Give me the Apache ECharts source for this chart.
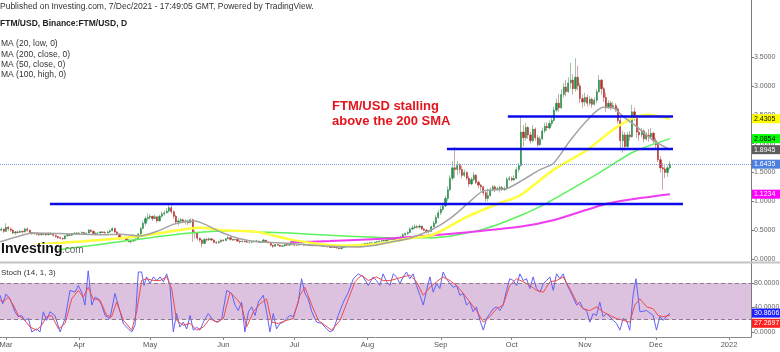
<!DOCTYPE html>
<html>
<head>
<meta charset="utf-8">
<script src="https://cdn.jsdelivr.net/npm/echarts@6/dist/echarts.min.js"></script>
<style>html,body{margin:0;padding:0;background:#fff}#chart{width:780px;height:352px}</style>
</head>
<body>
<div id="chart"></div>
<script>
// x values are days counted from 1 Mar 2021 (day 0)
var firstDay = -3;          // 26 Feb 2021
var firstOpen = 0.52;
// daily candles per month: [close, low, high]; open = previous close
var feb = [[0.50,0.47,0.55],[0.52,0.49,0.55],[0.48,0.45,0.53]];
var mar = [[0.55,0.47,0.62],[0.52,0.49,0.57],[0.50,0.47,0.55],[0.45,0.43,0.52],[0.47,0.42,0.49],[0.46,0.44,0.49],[0.48,0.45,0.50],[0.47,0.44,0.49],[0.52,0.46,0.54],[0.50,0.47,0.55],
  [0.46,0.44,0.51],[0.44,0.42,0.47],[0.45,0.42,0.47],[0.43,0.41,0.46],[0.42,0.40,0.45],[0.44,0.41,0.45],[0.43,0.41,0.45],[0.42,0.40,0.44],[0.44,0.41,0.46],[0.43,0.42,0.46],
  [0.41,0.39,0.44],[0.39,0.37,0.42],[0.37,0.35,0.40],[0.36,0.34,0.39],[0.35,0.33,0.37],[0.40,0.34,0.41],[0.42,0.39,0.43],[0.41,0.40,0.44],[0.44,0.40,0.45],[0.45,0.43,0.46],[0.44,0.42,0.47]];
var apr = [[0.45,0.43,0.47],[0.46,0.44,0.48],[0.44,0.43,0.47],[0.45,0.43,0.46],[0.50,0.44,0.52],[0.48,0.46,0.52],[0.44,0.42,0.49],[0.45,0.43,0.46],[0.45,0.44,0.47],[0.47,0.44,0.48],
  [0.46,0.45,0.48],[0.45,0.44,0.48],[0.47,0.45,0.49],[0.49,0.45,0.51],[0.53,0.48,0.55],[0.47,0.45,0.53],[0.43,0.41,0.48],[0.37,0.33,0.44],[0.36,0.34,0.39],[0.37,0.34,0.38],
  [0.33,0.31,0.38],[0.30,0.29,0.34],[0.31,0.27,0.33],[0.33,0.30,0.34],[0.35,0.31,0.36],[0.43,0.34,0.45],[0.53,0.42,0.55],[0.62,0.52,0.66],[0.70,0.58,0.74],[0.72,0.66,0.79]];
var may = [[0.74,0.68,0.78],[0.70,0.66,0.75],[0.73,0.69,0.77],[0.66,0.63,0.74],[0.74,0.65,0.77],[0.78,0.72,0.82],[0.80,0.75,0.84],[0.83,0.78,0.88],[0.89,0.80,0.95],[0.82,0.78,0.93],
  [0.74,0.70,0.84],[0.64,0.62,0.77],[0.66,0.58,0.70],[0.68,0.63,0.71],[0.65,0.63,0.70],[0.66,0.60,0.69],[0.63,0.59,0.68],[0.68,0.62,0.70],[0.45,0.30,0.70],[0.45,0.35,0.50],
  [0.36,0.32,0.47],[0.33,0.29,0.37],[0.27,0.20,0.34],[0.34,0.26,0.36],[0.33,0.30,0.36],[0.35,0.31,0.37],[0.33,0.31,0.36],[0.29,0.27,0.34],[0.28,0.26,0.31],[0.30,0.27,0.32],[0.33,0.29,0.34]];
var jun = [[0.32,0.30,0.34],[0.35,0.31,0.36],[0.37,0.34,0.40],[0.34,0.32,0.38],[0.33,0.31,0.35],[0.34,0.32,0.35],[0.31,0.30,0.35],[0.30,0.27,0.32],[0.31,0.29,0.32],[0.30,0.29,0.32],
  [0.29,0.28,0.31],[0.29,0.27,0.30],[0.30,0.28,0.31],[0.31,0.29,0.32],[0.31,0.30,0.33],[0.29,0.28,0.32],[0.30,0.28,0.31],[0.33,0.29,0.35],[0.30,0.29,0.33],[0.29,0.27,0.30],
  [0.24,0.22,0.29],[0.22,0.19,0.25],[0.25,0.21,0.26],[0.24,0.23,0.26],[0.22,0.21,0.25],[0.23,0.21,0.24],[0.25,0.22,0.26],[0.24,0.23,0.26],[0.25,0.23,0.27],[0.25,0.24,0.27]];
var jul = [[0.24,0.23,0.26],[0.24,0.23,0.25],[0.25,0.24,0.26],[0.26,0.24,0.27],[0.24,0.23,0.26],[0.25,0.24,0.26],[0.24,0.23,0.26],[0.23,0.22,0.25],[0.24,0.22,0.25],[0.23,0.22,0.24],
  [0.24,0.23,0.25],[0.23,0.22,0.24],[0.22,0.21,0.23],[0.22,0.21,0.23],[0.21,0.20,0.23],[0.20,0.19,0.22],[0.21,0.19,0.22],[0.20,0.19,0.21],[0.19,0.18,0.21],[0.18,0.17,0.20],
  [0.20,0.17,0.21],[0.21,0.19,0.22],[0.22,0.20,0.23],[0.22,0.21,0.23],[0.22,0.21,0.23],[0.23,0.21,0.25],[0.24,0.22,0.25],[0.24,0.23,0.26],[0.25,0.23,0.26],[0.26,0.24,0.27],[0.27,0.25,0.28]];
var aug = [[0.27,0.26,0.29],[0.28,0.26,0.29],[0.28,0.27,0.30],[0.29,0.27,0.30],[0.30,0.28,0.31],[0.31,0.29,0.32],[0.32,0.30,0.33],[0.31,0.30,0.33],[0.33,0.30,0.34],[0.34,0.32,0.36],
  [0.35,0.33,0.37],[0.34,0.33,0.36],[0.37,0.34,0.38],[0.36,0.35,0.39],[0.38,0.35,0.40],[0.42,0.37,0.45],[0.44,0.40,0.46],[0.46,0.42,0.48],[0.52,0.45,0.55],[0.54,0.50,0.58],
  [0.56,0.52,0.60],[0.55,0.53,0.59],[0.57,0.53,0.60],[0.52,0.50,0.58],[0.50,0.48,0.54],[0.47,0.45,0.52],[0.48,0.44,0.50],[0.56,0.47,0.58],[0.62,0.55,0.66],[0.72,0.60,0.76],[0.80,0.70,0.85]];
var sep = [[0.86,0.76,0.92],[0.92,0.83,0.98],[1.05,0.90,1.10],[1.20,1.00,1.26],[1.40,1.18,1.45],[1.58,1.36,1.70],[1.55,1.40,1.94],[1.62,1.45,1.70],[1.55,1.48,1.66],[1.45,1.40,1.62],
  [1.50,1.42,1.55],[1.40,1.36,1.52],[1.30,1.25,1.44],[1.38,1.28,1.42],[1.45,1.35,1.50],[1.33,1.30,1.47],[1.28,1.22,1.36],[1.25,1.18,1.30],[1.15,1.10,1.27],[1.05,0.99,1.18],
  [1.10,1.00,1.22],[1.20,1.08,1.24],[1.25,1.17,1.28],[1.20,1.16,1.28],[1.22,1.18,1.25],[1.24,1.15,1.27],[1.20,1.18,1.27],[1.22,1.18,1.26],[1.38,1.20,1.42],[1.40,1.35,1.44]];
var oct = [[1.37,1.34,1.43],[1.40,1.35,1.45],[1.55,1.38,1.60],[1.62,1.50,1.66],[2.20,1.60,2.46],[2.10,1.95,2.32],[2.28,2.05,2.36],[2.15,2.08,2.30],[2.05,2.00,2.20],[2.25,2.02,2.32],
  [2.10,2.05,2.28],[1.98,1.94,2.15],[2.08,1.96,2.12],[2.22,2.06,2.28],[2.30,2.18,2.36],[2.27,2.22,2.37],[2.35,2.24,2.40],[2.40,2.30,2.45],[2.58,2.38,2.64],[2.70,2.55,2.78],
  [2.62,2.55,2.86],[2.85,2.60,2.95],[2.98,2.80,3.05],[2.90,2.82,3.10],[3.05,2.88,3.15],[3.10,2.95,3.40],[2.95,2.85,3.20],[3.15,2.90,3.48],[3.00,2.92,3.35],[2.78,2.70,3.05],[2.72,2.62,2.85]];
var nov = [[2.80,2.65,2.88],[2.70,2.64,2.85],[2.77,2.66,2.82],[2.68,2.62,2.80],[2.75,2.66,2.80],[2.90,2.70,2.95],[3.10,2.88,3.19],[2.95,2.85,3.12],[2.80,2.72,2.98],[2.62,2.55,2.88],
  [2.70,2.60,2.75],[2.64,2.58,2.74],[2.66,2.60,2.72],[2.60,2.55,2.70],[2.40,2.35,2.63],[2.05,1.88,2.45],[2.15,1.84,2.22],[1.95,1.88,2.20],[2.15,1.92,2.20],[2.12,2.05,2.22],
  [2.55,2.10,2.67],[2.48,2.40,2.62],[2.20,2.10,2.50],[2.15,2.05,2.28],[2.22,2.10,2.27],[2.08,2.02,2.25],[2.15,2.05,2.20],[2.12,2.04,2.25],[2.18,2.08,2.27],[2.05,2.00,2.20]];
var dec = [[1.98,1.90,2.10],[1.72,1.68,2.00],[1.58,1.50,1.78],[1.56,1.20,1.66],[1.50,1.40,1.62],[1.58,1.42,1.63],[1.6435,1.55,1.70]];

// moving averages, [day, value]
var ma20Low = [[-2.5,0.30],[5.9,0.40],[11.4,0.45],[22.9,0.44],[39.8,0.42],[48.2,0.43],[56.7,0.40],[65.2,0.50],[70.7,0.60],[76.6,0.65],[80,0.66],[84.2,0.60],[91.8,0.45],[99,0.35],[106.2,0.30],[120.2,0.27],[137.1,0.22],[148.5,0.21],[156.2,0.24],[162.5,0.29],[171,0.36],[180.7,0.52],[187.9,0.70],[195.1,0.95],[201.9,1.18],[206.9,1.20],[212,1.22],[218.8,1.37],[226,1.55],[231.5,1.65],[238.7,2.05],[245.9,2.40],[252.6,2.63],[256.9,2.62],[261.1,2.47],[267,2.29],[273.8,2.06],[281,1.8945]];
var ma50Close = [[-2.5,0.16],[11.4,0.24],[39.8,0.33],[56.7,0.40],[77.9,0.53],[82.1,0.54],[91.8,0.50],[106.2,0.47],[120.2,0.34],[134.2,0.25],[141.3,0.23],[157,0.26],[171,0.36],[180.7,0.42],[195.1,0.73],[209,0.97],[217.5,1.10],[231.5,1.54],[245.9,1.89],[256.9,2.24],[265.3,2.44],[271.3,2.50],[281,2.4305]];
var ma100High = [[-2.5,0.06],[21.6,0.16],[48.2,0.30],[77.9,0.45],[97.8,0.49],[107.5,0.47],[120.2,0.45],[137.1,0.41],[161.2,0.37],[180.7,0.37],[200.6,0.50],[217.5,0.75],[230.2,1.00],[251.4,1.50],[265.3,1.85],[281,2.0854]];
var ma200Close = [[120.2,0.29],[137.1,0.31],[163.8,0.36],[180.7,0.41],[217.5,0.56],[231.5,0.67],[255.6,0.97],[281,1.1234]];

// drawn horizontal levels: [fromDay, toDay, price]
var levels = [[18.6,286.5,0.953],[186.6,282.3,1.906],[212.4,282.3,2.47]];
var lastPrice = 1.6435;

// stochastic %K and %D, [day, value]
var stochK = [[-2.5,60],[-1.4,46],[0,62],[1.7,54],[3.8,33],[5.2,25],[6.6,27],[8,19],[9.5,22],[10.9,0],[13,5],[14.4,0],[15.8,33],[17.2,19],[18.6,33],[20.7,27],[22.9,0],[25,22],[27.1,68],[29.2,65],[30.6,76],[32,65],[33.4,44],[34.8,100],[36.3,44],[37.7,57],[39.1,54],[40.5,44],[41.9,27],[44,22],[46.1,63],[47.5,44],[49.7,13],[51.8,5],[53.2,0],[54.6,11],[56,98],[57.4,98],[58.4,76],[59.5,90],[61,79],[62.4,90],[63.8,84],[65.2,90],[66.6,82],[68,95],[69.4,76],[70.8,0],[72.2,30],[73.6,8],[75,16],[76.5,5],[77.9,27],[79.3,3],[80.7,8],[82.1,3],[83.5,16],[85.6,30],[87.7,19],[89.9,16],[91.3,22],[93.4,68],[95.5,63],[96.9,44],[98.3,35],[99.7,49],[101.1,0],[102.6,33],[104,41],[105.4,27],[106.8,49],[108.9,60],[110.3,33],[111.7,0],[113.1,30],[114.5,5],[116,14],[117.4,16],[118.8,22],[120.2,27],[121.6,25],[123.7,49],[125.1,87],[126.5,63],[127.9,54],[129.4,33],[131.5,16],[133.6,14],[135.7,5],[137.1,0],[138.5,3],[140.6,27],[142.8,49],[144.9,65],[147,87],[149.1,95],[151.2,90],[153.3,76],
  [155.4,90],[156.8,84],[158.2,76],[159.6,95],[161.1,82],[162.5,76],[163.9,95],[165.3,90],[166.7,79],[168.1,90],[169.5,98],[170.9,87],[172.3,95],[173.7,76],[175.2,60],[176.6,44],[178,68],[179.4,90],[180.8,65],[182.2,79],[183.6,71],[185,98],[186.4,87],[187.9,79],[189.3,73],[190.7,76],[192.1,60],[193.5,63],[194.9,44],[196.3,49],[197.7,33],[199.1,41],[200.6,19],[202,3],[203.4,22],[204.8,30],[206.2,38],[207.6,41],[209,35],[210.4,44],[211.8,68],[213.2,87],[214.7,84],[216.1,76],[217.5,95],[218.9,84],[220.3,87],[221.7,71],[223.1,90],[224.5,71],[226,65],[227.4,79],[228.8,84],[230.2,90],[231.6,68],[233,95],[234.4,87],[235.8,95],[237.2,79],[238.6,68],[240,57],[241.5,44],[242.9,49],[244.3,38],[245.7,35],[247.1,16],[248.5,30],[249.9,27],[251.3,49],[252.7,25],[254.2,30],[255.6,25],[257,19],[258.4,14],[259.8,3],[261.2,22],[262.6,19],[264,3],[265.4,60],[266.6,87],[268.3,33],[271.1,35],[273.9,27],[275.3,3],[276.7,25],[278.1,19],[279.5,25],[281,30.8606]];
var stochD = [[-2.5,52],[-1.1,49],[1,57],[3.1,44],[5.2,27],[7.3,22],[10.2,8],[13,3],[15.1,11],[17.2,25],[19.3,27],[22.2,5],[25,14],[27.8,54],[30.6,68],[32.7,57],[34.8,73],[36.9,54],[39.8,52],[42.6,27],[44.7,25],[46.8,49],[49.7,19],[53.2,3],[55.3,33],[57.4,84],[59.5,87],[62.4,84],[65.2,84],[68,90],[70.1,71],[72.2,19],[75,11],[77.9,14],[80.7,3],[83.5,8],[86.3,22],[89.2,16],[92,22],[94.8,65],[97.6,54],[99.7,44],[101.8,8],[104.7,33],[107.5,46],[110.3,54],[112.4,16],[115.2,14],[118.8,19],[121.6,22],[124.4,60],[126.5,73],[129.4,44],[132.2,19],[135,11],[137.8,3],[141.4,19],[144.9,54],[147.7,82],[150.5,93],[153.3,84],
  [156.8,90],[159.6,84],[162.5,84],[165.3,87],[168.1,90],[170.9,93],[173.7,82],[176.6,60],[179.4,73],[182.2,82],[185,90],[187.9,84],[190.7,76],[193.5,63],[196.3,49],[199.1,35],[202,16],[204.8,25],[207.6,38],[210.4,44],[213.2,76],[216.1,87],[218.9,82],[221.7,76],[224.5,68],[227.4,65],[230.2,82],[233,84],[235.8,90],[238.6,71],[241.5,49],[244.3,38],[247.1,35],[249.9,41],[252.7,33],[255.6,27],[258.4,22],[261.2,19],[264,16],[266.1,44],[268.3,54],[271.1,41],[273.9,38],[276,27],[278.1,25],[281,27.2697]];

// axis ticks
var monthDays = [0,31,61,92,122,153,184,214,245,275,306];
var monthLabels = ['Mar','Apr','May','Jun','Jul','Aug','Sep','Oct','Nov','Dec','2022'];
var priceTicks = [0,0.5,1,1.5,2,2.5,3,3.5];
var stochTicks = [0,40,80];

var FONT = '"Liberation Sans", Arial, sans-serif';
var X_MIN = -2.54, X_MAX = 315.3;

var wicks = [], bodies = [];
(function () {
  var prev = firstOpen, day = firstDay;
  [feb, mar, apr, may, jun, jul, aug, sep, oct, nov, dec].forEach(function (m) {
    m.forEach(function (c) {
      var o = prev, cl = c[0];
      var lo = Math.min(c[1], o, cl), hi = Math.max(c[2], o, cl);
      wicks.push([day, o, cl, lo, hi]);
      bodies.push([day, o, cl, Math.min(o, cl), Math.max(o, cl)]);
      prev = cl; day++;
    });
  });
})();

var chart = echarts.init(document.getElementById('chart'));

function maSeries(data, color, width) {
  return {type: 'line', xAxisIndex: 0, yAxisIndex: 0, data: data, showSymbol: false, smooth: 0.25,
    lineStyle: {color: color, width: width}, z: 4, silent: true};
}

var series = [
  {type: 'candlestick', xAxisIndex: 0, yAxisIndex: 0, data: wicks, encode: {x: 0, y: [1, 2, 3, 4]},
    barWidth: 1, z: 2, silent: true,
    itemStyle: {color: '#9fc4a9', color0: '#cfa5a5', borderColor: '#9fc4a9', borderColor0: '#cfa5a5', borderWidth: 1}},
  {type: 'candlestick', xAxisIndex: 0, yAxisIndex: 0, data: bodies, encode: {x: 0, y: [1, 2, 3, 4]},
    barWidth: 1.7, z: 3, silent: true,
    itemStyle: {color: '#238a47', color0: '#b3302b', borderColor: '#238a47', borderColor0: '#b3302b', borderWidth: 0.5},
    markLine: {silent: true, symbol: 'none', label: {show: false},
      lineStyle: {type: 'dotted', color: '#7b9de6', width: 1}, data: [{yAxis: lastPrice}]}},
  maSeries(ma100High, '#5cf25c', 1.5),
  maSeries(ma200Close, '#f03cf0', 2),
  maSeries(ma50Close, '#ffff3a', 2.5),
  maSeries(ma20Low, '#a3a3a3', 1.5)
];
levels.forEach(function (l) {
  series.push({type: 'line', xAxisIndex: 0, yAxisIndex: 0, data: [[l[0], l[2]], [l[1], l[2]]],
    showSymbol: false, lineStyle: {color: '#0b0be8', width: 2.5}, z: 6, silent: true});
});
series.push({type: 'line', xAxisIndex: 1, yAxisIndex: 1, data: stochK, showSymbol: false,
  lineStyle: {color: '#6060f8', width: 1}, z: 3, silent: true,
  markArea: {silent: true, itemStyle: {color: '#dcc2df'}, data: [[{yAxis: 20}, {yAxis: 80}]]},
  markLine: {silent: true, symbol: 'none', label: {show: false},
    lineStyle: {type: [4, 3], color: '#8a7c8a', width: 1}, data: [{yAxis: 20}, {yAxis: 80}]}});
series.push({type: 'line', xAxisIndex: 1, yAxisIndex: 1, data: stochD, showSymbol: false,
  lineStyle: {color: '#f24a4a', width: 1}, z: 4, silent: true});

var option = {
  animation: false,
  backgroundColor: '#fff',
  textStyle: {fontFamily: FONT},
  grid: [
    {left: 0, right: 29, top: 0, height: 262, outerBoundsMode: 'none'},
    {left: 0, right: 29, top: 263, height: 74, outerBoundsMode: 'none'}
  ],
  xAxis: [
    {type: 'value', gridIndex: 0, min: X_MIN, max: X_MAX,
      axisLine: {show: false, onZero: false}, axisTick: {show: false}, axisLabel: {show: false}, splitLine: {show: false}},
    {type: 'value', gridIndex: 1, min: X_MIN, max: X_MAX,
      axisLine: {show: true, onZero: false, lineStyle: {color: '#8a8a8a'}},
      axisTick: {show: true, customValues: monthDays, length: 3, lineStyle: {color: '#8a8a8a'}},
      axisLabel: {customValues: monthDays, fontSize: 7.5, color: '#555', margin: 4, fontFamily: FONT,
        formatter: function (v) { return monthLabels[monthDays.indexOf(v)]; }},
      splitLine: {show: false}}
  ],
  yAxis: [
    {type: 'value', gridIndex: 0, position: 'right', min: -0.052, max: 4.488,
      axisLine: {show: true, onZero: false, lineStyle: {color: '#7a7a7a'}},
      axisTick: {show: true, customValues: priceTicks, length: 3, lineStyle: {color: '#7a7a7a'}},
      axisLabel: {customValues: priceTicks, fontSize: 7, color: '#666', margin: 3, fontFamily: FONT,
        formatter: function (v) { return v.toFixed(4); }},
      splitLine: {show: false}},
    {type: 'value', gridIndex: 1, position: 'right', min: -8.2, max: 112.7,
      axisLine: {show: true, onZero: false, lineStyle: {color: '#7a7a7a'}},
      axisTick: {show: true, customValues: stochTicks, length: 3, lineStyle: {color: '#7a7a7a'}},
      axisLabel: {customValues: stochTicks, fontSize: 7, color: '#666', margin: 3, fontFamily: FONT,
        formatter: function (v) { return v.toFixed(4); }},
      splitLine: {show: false}}
  ],
  series: series
};
chart.setOption(option);

function txt(x, y, s, font, color) {
  return {type: 'text', x: x, y: y, z: 60, silent: true,
    style: {text: s, font: font, fill: color, verticalAlign: 'middle', align: 'left'}};
}
function tag(axis, v, shift, bg, fg) {
  var y = chart.convertToPixel({yAxisIndex: axis}, v) + shift;
  return {type: 'group', z: 100, silent: true, children: [
    {type: 'rect', shape: {x: 752, y: y - 4.5, width: 28, height: 9}, style: {fill: bg}, z: 100},
    {type: 'text', x: 754, y: y, z: 101, style: {text: v.toFixed(4), font: '7px ' + FONT, fill: fg, verticalAlign: 'middle'}}
  ]};
}

var graphics = [
  {type: 'line', shape: {x1: 0, y1: 262.5, x2: 780, y2: 262.5}, style: {stroke: '#c4c4c4', lineWidth: 2}, z: 50, silent: true},
  txt(0, 7, 'Published on Investing.com, 7/Dec/2021 - 17:49:05 GMT, Powered by TradingView.', '8.5px ' + FONT, '#333'),
  txt(0, 23.5, 'FTM/USD, Binance:FTM/USD, D', 'bold 8.5px ' + FONT, '#222'),
  txt(1, 44, 'MA (20, low, 0)', '8.5px ' + FONT, '#333'),
  txt(1, 54.3, 'MA (200, close, 0)', '8.5px ' + FONT, '#333'),
  txt(1, 64.6, 'MA (50, close, 0)', '8.5px ' + FONT, '#333'),
  txt(1, 75, 'MA (100, high, 0)', '8.5px ' + FONT, '#333'),
  txt(332, 106.5, 'FTM/USD stalling', 'bold 13px ' + FONT, '#e3141c'),
  txt(332, 121.7, 'above the 200 SMA', 'bold 13px ' + FONT, '#e3141c'),
  {type: 'rect', shape: {x: 0, y: 244, width: 58, height: 14}, style: {fill: '#fff'}, z: 55, silent: true},
  txt(1, 249, 'Investing', 'bold 14px ' + FONT, '#111'),
  txt(62, 250, '.com', '10px ' + FONT, '#666'),
  txt(1, 273, 'Stoch (14, 1, 3)', '8px ' + FONT, '#333'),
  tag(0, 2.4305, 0, '#ffff00', '#000'),
  tag(0, 2.0854, 0, '#00ff00', '#000'),
  tag(0, 1.8945, 0, '#5c5c5c', '#fff'),
  tag(0, lastPrice, 0, '#4c7fe0', '#fff'),
  tag(0, 1.1234, 0, '#ff00ff', '#fff'),
  tag(1, 30.8606, 0, '#1f1fff', '#fff'),
  tag(1, 27.2697, 8, '#ff2020', '#fff')
];
chart.setOption({graphic: graphics});
</script>
</body>
</html>
